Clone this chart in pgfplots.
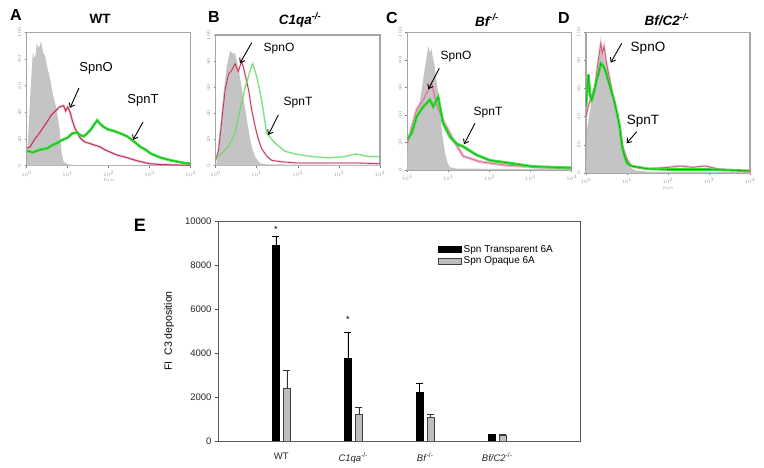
\documentclass[border=0pt]{standalone}
\usepackage{pgfplots}
\pgfplotsset{compat=1.18}
\usepackage{pgfplotstable}
\usepackage{fontspec}
\setmainfont{Liberation Sans}
\usetikzlibrary{arrows.meta}
\definecolor{hgray}{RGB}{196,196,196}
\definecolor{hred}{RGB}{185,55,75}
\definecolor{hpink}{RGB}{240,160,200}
\definecolor{hgreen}{RGB}{55,225,55}
\definecolor{dgreen}{RGB}{30,130,30}
\definecolor{bgray}{RGB}{190,190,190}
\pgfplotsset{histo/.style={scale only axis, anchor=south west,
  xmin=0, xmax=4, ymin=0, ymax=100,
  xtick={0,1,2,3,4}, xticklabels={$10^0$,$10^1$,$10^2$,$10^3$,$10^4$},
  ytick={0,20,40,60,80,100},
  xtick pos=left, ytick pos=left,
  tick align=outside, major tick length=2pt,
  tick style={gray, line width=0.6pt},
  axis line style={gray!70, line width=1.4pt},
  ticklabel style={font=\fontsize{3.5}{4}\selectfont, text=gray!80},
  yticklabel style={rotate=90},
  xlabel style={font=\fontsize{3.5}{4}\selectfont, text=gray!80, yshift=4pt},
  clip=true}}
\tikzset{arr/.style={-{Straight Barb[length=4pt,width=6pt]}, line width=0.9pt, black}}
\begin{document}
% ---------- histogram data (x = log10 fluorescence, y = % of max) ----------
\pgfplotstableread{
x y
0 0
0.05 30
0.1 60
0.15 85
0.2 80
0.25 92
0.3 88
0.35 93
0.4 85
0.45 82
0.5 74
0.55 68
0.6 60
0.65 52
0.7 46
0.75 38
0.8 28
0.85 10
0.9 3
1.0 1
1.2 0.5
4 0
}\grayA
\pgfplotstableread{
x y
0 13
0.08 14
0.2 20
0.3 24
0.41 29
0.5 33
0.6 38
0.7 41
0.8 44
0.9 45
0.95 41
1.0 44
1.06 40
1.12 33
1.18 28
1.23 25
1.3 21
1.4 18
1.5 17
1.6 16
1.7 15
1.8 14
1.9 12
2.05 10
2.2 8
2.45 6
2.6 4.5
2.78 3
3.0 1.5
3.3 0.8
4 0.3
}\redA
\pgfplotstableread{
x y
0 11
0.15 10
0.33 12
0.5 13
0.6 15
0.74 17
0.85 19
1.0 21
1.1 24
1.23 25
1.3 23
1.39 22
1.47 24
1.56 27
1.65 31
1.72 34
1.8 31
1.88 29
2.0 27
2.13 26
2.3 24
2.45 22
2.62 18
2.78 14
2.9 12
3.03 9
3.27 6
3.52 4
3.85 2
4 1.5
}\greenA
\pgfplotstableread{
x y
0 0
0.04 5
0.07 17
0.11 30
0.15 43
0.2 58
0.27 76
0.31 82
0.35 88
0.4 86
0.47 86
0.53 78
0.59 68
0.65 56
0.72 43
0.78 31
0.84 20
0.9 12
0.96 7
1.02 4
1.08 2
1.2 1
4 0.5
}\grayB
\pgfplotstableread{
x y
0 4
0.07 12
0.15 35
0.23 58
0.31 70
0.39 73
0.47 78
0.55 72
0.63 80
0.7 72
0.8 58
0.88 42
0.96 30
1.04 20
1.12 13
1.25 7
1.37 4
1.6 3
2.0 2
2.5 2
3.0 2
3.5 2
4 1.5
}\redB
\pgfplotstableread{
x y
0 5
0.31 14.5
0.47 25
0.55 37
0.72 60
0.84 73
0.9 78
1.0 68
1.12 50
1.24 25
1.45 17
1.69 11
1.93 9
2.34 7
2.75 6
3.15 7
3.4 9
3.72 7
4 7
}\greenB
\pgfplotstableread{
x y
0 0
0.01 22
0.08 27
0.15 31
0.23 41
0.31 51
0.37 62
0.43 75
0.47 82
0.51 90
0.55 85
0.59 88
0.63 80
0.67 75
0.71 65
0.75 56
0.79 45
0.83 31
0.88 20
0.92 12
0.98 5
1.04 2
1.2 1
4 0.5
}\grayC
\pgfplotstableread{
x y
0 19
0.1 30
0.23 44
0.39 51
0.51 58
0.59 63
0.71 48
0.87 36
1.12 22
1.36 10
1.77 6
2.4 3.5
3.2 2
4 1.5
}\redC
\pgfplotstableread{
x y
0 22
0.11 27
0.23 39
0.39 46
0.55 51
0.63 46
0.75 53
0.87 34
1.04 24
1.2 19
1.36 17
1.68 11
2.01 7
2.49 5
3.06 2.5
4 1.5
}\greenC
\pgfplotstableread{
x y
0 0
0.02 30
0.1 45
0.2 60
0.3 78
0.36 90
0.42 85
0.47 80
0.53 72
0.59 64
0.65 55
0.7 48
0.76 40
0.82 30
0.88 20
0.94 12
1.0 7
1.08 4
1.2 2
1.5 1
4 0.5
}\grayD
\pgfplotstableread{
x y
0 40
0.06 48
0.14 55
0.22 62
0.3 80
0.36 92
0.4 85
0.44 90
0.5 78
0.59 65
0.68 52
0.76 42
0.84 30
0.9 18
1.0 10
1.08 6
1.2 4
1.5 3
2.0 4
2.3 5
2.6 4
2.9 5
3.2 3
3.6 2
4 1.5
}\redD
\pgfplotstableread{
x y
0 47
0.03 60
0.06 70
0.1 55
0.14 52
0.2 58
0.26 66
0.32 72
0.36 78
0.42 76
0.47 73
0.53 67
0.59 61
0.68 52
0.76 42
0.82 33
0.88 19
0.94 12
1.0 7
1.1 5
1.3 4
1.49 3
2.0 2.5
2.5 2.5
3.0 2.5
3.5 2
4 1.5
}\greenD
% ---------- bar chart data ----------
\pgfplotstableread{
x y err
0 8900 400
1 3770 1150
2 2210 410
3 300 0
}\transp
\pgfplotstableread{
x y err
0 2400 800
1 1200 330
2 1080 150
3 250 50
}\opaque
\begin{tikzpicture}[x=1pt,y=1pt]
\path[use as bounding box, fill=white] (0,0) rectangle (764,468);

% ---------------- Panel A ----------------
\begin{axis}[histo, at={(26.7pt,302.3pt)}, width=164pt, height=133.4pt, xlabel={FL1-H}]
\addplot[fill=hgray, draw=none] table {\grayA} \closedcycle;
\addplot[hpink, line width=2.6pt, opacity=0.55] table {\redA};
\addplot[hred, line width=1pt] table {\redA};
\addplot[hgreen, line width=2.6pt] table {\greenA};
\addplot[dgreen, line width=0.5pt, opacity=0.7] table {\greenA};
\end{axis}

% ---------------- Panel B ----------------
\begin{axis}[histo, at={(215.7pt,302.3pt)}, width=164.3pt, height=130.7pt]
\addplot[fill=hgray, draw=none] table {\grayB} \closedcycle;
\addplot[hpink, line width=2pt, opacity=0.5] table {\redB};
\addplot[hred, line width=0.8pt] table {\redB};
\addplot[hgreen!70, line width=1.6pt, opacity=0.7] table {\greenB};
\addplot[dgreen!80, line width=0.5pt, densely dotted] table {\greenB};
\end{axis}

% ---------------- Panel C ----------------
\begin{axis}[histo, at={(407.3pt,298pt)}, width=164.4pt, height=137.7pt]
\addplot[fill=hgray, draw=none] table {\grayC} \closedcycle;
\addplot[hpink, line width=3pt, opacity=0.7] table {\redC};
\addplot[hred!70, line width=0.8pt] table {\redC};
\addplot[hgreen, line width=2.8pt] table {\greenC};
\addplot[dgreen, line width=0.5pt, opacity=0.7] table {\greenC};
\end{axis}

% ---------------- Panel D ----------------
\begin{axis}[histo, at={(586pt,295pt)}, width=164pt, height=140.7pt, xlabel={FL1-H}]
\addplot[fill=hgray, draw=none] table {\grayD} \closedcycle;
\addplot[hpink, line width=2.5pt, opacity=0.5] table {\redD};
\addplot[hred!80, line width=0.9pt] table {\redD};
\addplot[hgreen, line width=2.6pt] table {\greenD};
\addplot[dgreen, line width=0.6pt, opacity=0.8] table {\greenD};
\end{axis}

% ---------------- Panel E ----------------
\begin{axis}[at={(218pt,27pt)}, anchor=south west, scale only axis,
  width=362pt, height=220pt,
  ymin=0, ymax=10000, xmin=-0.88, xmax=4.15,
  ybar=4pt, bar width=7pt,
  xtick={0,1,2,3},
  xticklabels={WT, \textit{C1qa}\textsuperscript{-/-}, \textit{Bf}\textsuperscript{-/-}, \textit{Bf/C2}\textsuperscript{-/-}},
  xticklabel style={yshift=-5pt},
  x tick style={draw=none},
  ytick={0,2000,4000,6000,8000,10000},
  scaled y ticks=false,
  ytick pos=left,
  /pgf/number format/1000 sep={},
  /pgf/number format/assume math mode=true,
  tick align=outside, major tick length=3pt,
  y tick style={black!70, line width=0.6pt},
  ticklabel style={font=\fontsize{9.5}{11}\selectfont, text=black!85},
  axis line style={black!65, line width=0.7pt},
  ylabel={FI\ \ C3 deposition},
  ylabel style={at={(axis description cs:-0.135,0.5)}, anchor=center, font=\fontsize{10.5}{12}\selectfont},
  legend style={at={(0.605,0.905)}, anchor=north west, draw=none, fill=none,
    font=\fontsize{10}{12}\selectfont, row sep=-1pt, inner sep=1pt,
    cells={anchor=west}},
  legend image code/.code={\draw[#1] (0pt,-3pt) rectangle (23pt,3pt);},
]
\addplot[fill=black, draw=black, line width=0.4pt,
  error bars/.cd, y dir=plus, y explicit,
  error bar style={black, line width=0.6pt},
  error mark options={rotate=90, black, line width=0.6pt, mark size=3.5pt}]
  table[x=x, y=y, y error=err] {\transp};
\addplot[fill=bgray, draw=black!75, line width=0.5pt,
  error bars/.cd, y dir=plus, y explicit,
  error bar style={black!80, line width=0.6pt},
  error mark options={rotate=90, black!80, line width=0.6pt, mark size=3.5pt}]
  table[x=x, y=y, y error=err] {\opaque};
\legend{Spn Transparent 6A, Spn Opaque 6A}
\node[xshift=-5.5pt, font=\fontsize{9}{9}\selectfont] at (axis cs:0,9600) {*};
\node[xshift=-5.5pt, font=\fontsize{9}{9}\selectfont] at (axis cs:1,5510) {*};
\end{axis}

% ---------------- titles and letters ----------------
\node[font=\fontsize{16}{16}\selectfont\bfseries] at (16,453) {A};
\node[font=\fontsize{16}{16}\selectfont\bfseries] at (214,451) {B};
\node[font=\fontsize{16}{16}\selectfont\bfseries] at (392,450) {C};
\node[font=\fontsize{16}{16}\selectfont\bfseries] at (564,450) {D};
\node[font=\fontsize{18}{18}\selectfont\bfseries] at (140,243) {E};
\node[font=\fontsize{13.5}{14}\selectfont\bfseries] at (100,449) {WT};
\node[font=\fontsize{13.5}{14}\selectfont\bfseries\itshape] at (300,448) {C1qa\textsuperscript{-/-}};
\node[font=\fontsize{13.5}{14}\selectfont\bfseries\itshape] at (487,448) {Bf\textsuperscript{-/-}};
\node[font=\fontsize{13.5}{14}\selectfont\bfseries\itshape] at (667,448) {Bf/C2\textsuperscript{-/-}};

% ---------------- annotations ----------------
\node[font=\fontsize{13}{14}\selectfont] at (96,400) {SpnO};
\draw[arr] (79,380) -- (70,360);
\node[font=\fontsize{13}{14}\selectfont] at (143,368) {SpnT};
\draw[arr] (143,346) -- (133,328);

\node[font=\fontsize{12}{13}\selectfont] at (279,419) {SpnO};
\draw[arr] (251.7,425.3) -- (240,404.7);
\node[font=\fontsize{12}{13}\selectfont] at (298,365) {SpnT};
\draw[arr] (278.3,353) -- (268.3,333);

\node[font=\fontsize{12}{13}\selectfont] at (456,411) {SpnO};
\draw[arr] (439.3,399.7) -- (428.3,378.7);
\node[font=\fontsize{12}{13}\selectfont] at (488,355) {SpnT};
\draw[arr] (475,344.7) -- (464,323.7);

\node[font=\fontsize{13.5}{14}\selectfont] at (648,420) {SpnO};
\draw[arr] (621.7,424.7) -- (610.7,405.3);
\node[font=\fontsize{13.5}{14}\selectfont] at (643,347) {SpnT};
\draw[arr] (636.7,336.3) -- (626.7,324.7);
\end{tikzpicture}
\end{document}
